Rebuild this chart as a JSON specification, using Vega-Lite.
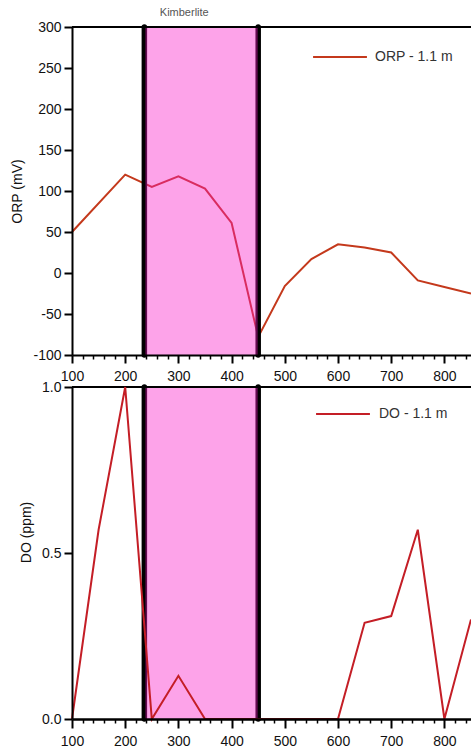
{
  "$schema": "https://vega.github.io/schema/vega-lite/v6.json",
  "padding": {"left": 10, "top": 7, "right": 0, "bottom": 0},
  "background": "white",
  "config": {
    "view": {"stroke": null},
    "font": "Liberation Sans",
    "axis": {"domainColor": "black", "domainWidth": 2, "tickColor": "black", "labelColor": "#111", "labelFont": "Liberation Sans", "labelFontSize": 14, "titleFont": "Liberation Sans", "titleFontSize": 14, "titleFontWeight": "normal", "titleColor": "#111", "grid": false, "zindex": 1}
  },
  "spacing": 32,
  "bounds": "flush",
  "resolve": {"scale": {"color": "independent"}, "legend": {"color": "independent"}},
  "datasets": {
    "orp": [
      {"dist": 100, "orp": 50}, {"dist": 200, "orp": 120}, {"dist": 250, "orp": 105}, {"dist": 300, "orp": 118},
      {"dist": 350, "orp": 103}, {"dist": 400, "orp": 61}, {"dist": 450, "orp": -78}, {"dist": 500, "orp": -16},
      {"dist": 550, "orp": 17}, {"dist": 600, "orp": 35}, {"dist": 650, "orp": 31}, {"dist": 700, "orp": 25},
      {"dist": 750, "orp": -9}, {"dist": 800, "orp": -17}, {"dist": 850, "orp": -25}
    ],
    "do": [
      {"dist": 100, "do": 0}, {"dist": 150, "do": 0.57}, {"dist": 200, "do": 1.0}, {"dist": 250, "do": 0},
      {"dist": 300, "do": 0.13}, {"dist": 350, "do": 0}, {"dist": 400, "do": 0}, {"dist": 450, "do": 0},
      {"dist": 500, "do": 0}, {"dist": 550, "do": 0}, {"dist": 600, "do": 0}, {"dist": 650, "do": 0.29},
      {"dist": 700, "do": 0.31}, {"dist": 750, "do": 0.57}, {"dist": 800, "do": 0}, {"dist": 850, "do": 0.30}
    ],
    "zone": [{"start": 238, "end": 449}],
    "bounds": [{"x": 236}, {"x": 450}],
    "label": [{"x": 311, "text": "Kimberlite"}]
  },
  "vconcat": [
    {
      "width": 399,
      "height": 328,
      "resolve": {"axis": {"x": "independent"}},
      "layer": [
        {
          "data": {"name": "orp"},
          "mark": {"type": "line", "strokeWidth": 2},
          "encoding": {
            "x": {"field": "dist", "type": "quantitative", "scale": {"domain": [100, 850], "nice": false},
              "axis": {"orient": "bottom", "title": null, "values": [100, 200, 300, 400, 500, 600, 700, 800],
                "labelOverlap": false, "labelFlush": false, "labelPadding": 6, "tickSize": 8, "tickWidth": 2, "zindex": 2}},
            "y": {"field": "orp", "type": "quantitative", "scale": {"domain": [-100, 300], "nice": false},
              "axis": {"title": "ORP (mV)", "values": [-100, -50, 0, 50, 100, 150, 200, 250, 300], "labelExpr": "replace(datum.label, '\u2212', '-')", "tickSize": 8, "tickWidth": 2, "labelPadding": 3, "titleX": -48, "zindex": 2}},
            "color": {"datum": "ORP - 1.1 m", "scale": {"range": ["#c4391c"]},
              "legend": {"orient": "none", "legendX": 240, "legendY": 2, "title": null, "symbolType": "stroke", "symbolSize": 2900, "symbolStrokeWidth": 2, "labelFontSize": 14, "labelColor": "#333", "labelOffset": 7, "labelFont": "Liberation Sans"}}
          }
        },
        {
          "data": {"name": "bounds"},
          "mark": {"type": "rule", "strokeWidth": 5.5, "color": "black", "strokeCap": "round"},
          "encoding": {"x": {"field": "x", "type": "quantitative", "axis": null}}
        },
        {
          "data": {"name": "zone"},
          "mark": {"type": "rect", "color": "#fa19c8", "opacity": 0.4},
          "encoding": {"x": {"field": "start", "type": "quantitative",
              "axis": {"orient": "bottom", "title": null, "labels": false, "domain": false, "tickSize": 4, "tickWidth": 1.5, "zindex": 2,
                "values": [120,140,160,180,220,240,260,280,320,340,360,380,420,440,460,480,520,540,560,580,620,640,660,680,720,740,760,780,820,840]}},
            "x2": {"field": "end"}}
        },
        {
          "data": {"values": [{}]},
          "mark": {"type": "rule", "color": "black", "strokeWidth": 2},
          "encoding": {"y": {"datum": 300}}
        },
        {
          "data": {"name": "label"},
          "mark": {"type": "text", "fontSize": 11, "color": "#555", "font": "Liberation Sans"},
          "encoding": {"x": {"field": "x", "type": "quantitative", "axis": null}, "y": {"datum": 317}, "text": {"field": "text"}}
        }
      ]
    },
    {
      "width": 399,
      "height": 332,
      "resolve": {"axis": {"x": "independent"}},
      "layer": [
        {
          "data": {"name": "bounds"},
          "mark": {"type": "rule", "strokeWidth": 5.5, "color": "black", "strokeCap": "round"},
          "encoding": {"x": {"field": "x", "type": "quantitative", "scale": {"domain": [100, 850], "nice": false}, "axis": null}}
        },
        {
          "data": {"name": "zone"},
          "mark": {"type": "rect", "color": "#fa19c8", "opacity": 0.4},
          "encoding": {"x": {"field": "start", "type": "quantitative",
              "axis": {"orient": "bottom", "title": null, "labels": false, "domain": false, "tickSize": 4, "tickWidth": 1.5, "zindex": 2,
                "values": [120,140,160,180,220,240,260,280,320,340,360,380,420,440,460,480,520,540,560,580,620,640,660,680,720,740,760,780,820,840]}},
            "x2": {"field": "end"}}
        },
        {
          "data": {"values": [{}]},
          "mark": {"type": "rule", "color": "black", "strokeWidth": 2},
          "encoding": {"y": {"datum": 1}}
        },
        {
          "data": {"name": "do"},
          "mark": {"type": "line", "strokeWidth": 2},
          "encoding": {
            "x": {"field": "dist", "type": "quantitative",
              "axis": {"orient": "bottom", "title": null, "values": [100, 200, 300, 400, 500, 600, 700, 800],
                "labelOverlap": false, "labelFlush": false, "labelPadding": 6, "tickSize": 9, "tickWidth": 2, "domainWidth": 2.5, "zindex": 2}},
            "y": {"field": "do", "type": "quantitative", "scale": {"domain": [0, 1], "nice": false},
              "axis": {"title": "DO (ppm)", "values": [0, 0.5, 1], "format": ".1f", "tickSize": 8, "tickWidth": 2, "labelPadding": 3, "titleX": -39, "titleY": 145, "zindex": 2}},
            "color": {"datum": "DO - 1.1 m", "scale": {"range": ["#c41e26"]},
              "legend": {"orient": "none", "legendX": 243, "legendY": -1, "title": null, "symbolType": "stroke", "symbolSize": 2900, "symbolStrokeWidth": 2, "labelFontSize": 14, "labelColor": "#333", "labelOffset": 8, "labelFont": "Liberation Sans"}}
          }
        }
      ]
    }
  ]
}
